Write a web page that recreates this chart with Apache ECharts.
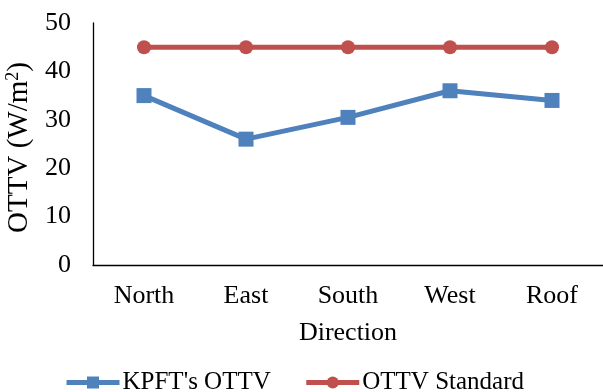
<!DOCTYPE html>
<html>
<head>
<meta charset="utf-8">
<script src="https://cdn.jsdelivr.net/npm/echarts@6/dist/echarts.min.js"></script>
<style>
  html, body { margin: 0; padding: 0; background: #fff; }
  #chart { width: 603px; height: 392px; }
</style>
</head>
<body>
<div id="chart"></div>
<script>
// Wall directions along the x axis
const directions = ['North', 'East', 'South', 'West', 'Roof'];
// Computed OTTV per direction (W/m²)
const kpftOttv = [35, 26, 30.5, 36, 34];
// Regulatory OTTV limit (W/m²)
const ottvStandard = [45, 45, 45, 45, 45];

const font = 'Liberation Serif, Times New Roman, serif';
const chart = echarts.init(document.getElementById('chart'));

chart.setOption({
  animation: false,
  textStyle: { fontFamily: font, color: '#000' },
  grid: { left: 93, right: 0, top: 23, bottom: 127, containLabel: false, outerBoundsMode: 'none' },
  xAxis: {
    type: 'category',
    data: directions,
    boundaryGap: true,
    name: 'Direction',
    nameLocation: 'middle',
    nameGap: 55,
    nameTextStyle: { fontFamily: font, fontSize: 26, color: '#000' },
    axisLine: { lineStyle: { color: '#000', width: 1.3 } },
    axisTick: { show: false },
    axisLabel: { fontFamily: font, fontSize: 26, color: '#000', margin: 18 }
  },
  yAxis: {
    type: 'value',
    min: 0,
    max: 50,
    interval: 10,
    name: '{a|OTTV (W/m}{s|2}{a|)}',
    nameLocation: 'middle',
    nameGap: 58,
    nameRotate: 90,
    nameTextStyle: {
      padding: [0, 7, 0, 0],
      rich: {
        a: { fontFamily: font, fontSize: 29, color: '#000' },
        s: { fontFamily: font, fontSize: 18, color: '#000', verticalAlign: 'top', padding: [0, 0, 13, 0] }
      }
    },
    axisLine: { show: true, lineStyle: { color: '#000', width: 1.3 } },
    axisTick: { show: false },
    splitLine: { show: false },
    axisLabel: { fontFamily: font, fontSize: 26, color: '#000', margin: 22 }
  },
  legend: {
    bottom: -8,
    left: 59,
    itemGap: 33,
    itemWidth: 53,
    itemHeight: 15,
    textStyle: { fontFamily: font, fontSize: 25, color: '#000', padding: [0, 0, 0, -2] },
    lineStyle: { width: 5 },
    data: ["KPFT's OTTV", 'OTTV Standard']
  },
  series: [
    {
      name: "KPFT's OTTV",
      type: 'line',
      data: kpftOttv,
      symbol: 'rect',
      symbolSize: 15,
      lineStyle: { color: '#4F81BD', width: 5 },
      itemStyle: { color: '#4F81BD' }
    },
    {
      name: 'OTTV Standard',
      type: 'line',
      data: ottvStandard,
      symbol: 'circle',
      symbolSize: 14,
      lineStyle: { color: '#C0504D', width: 5 },
      itemStyle: { color: '#C0504D' }
    }
  ]
});
</script>
</body>
</html>
